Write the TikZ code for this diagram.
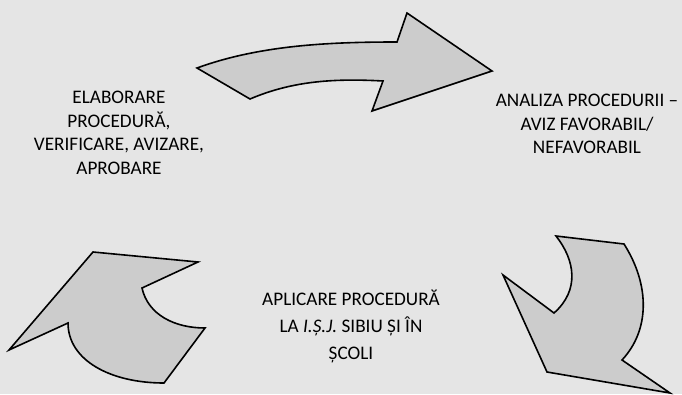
\documentclass[tikz,border=0pt]{standalone}
\usepackage{fontspec}
\setmainfont{Carlito}
\begin{document}
\begin{tikzpicture}[x=1pt,y=-1pt,
  shp/.style={draw=black,line width=1.6pt,fill=gray!40,line join=miter},
  lbl/.style={align=center,font=\fontsize{19.2}{23.5}\selectfont,text=black,inner sep=0pt}]
\fill[gray!20] (0,0) rectangle (682,394);
\useasboundingbox (0,0) rectangle (682,394);
% top arrow
\draw[shp] (197,68) .. controls (260,45) and (330,42) .. (397,42)
  -- (407,13) -- (492,71) -- (372,111) -- (383,81)
  .. controls (330,78) and (290,82) .. (250,99) -- cycle;
% bottom-right arrow
\draw[shp] (556,236) -- (624,244)
  .. controls (650,285) and (650,330) .. (622,360)
  -- (670,393) -- (547,372) -- (503,275) -- (554,313)
  .. controls (580,290) and (575,260) .. cycle;
% bottom-left arrow
\draw[shp] (93,252) -- (198,262) -- (142,288)
  .. controls (148,315) and (175,328) .. (205,328)
  -- (164,383)
  .. controls (110,383) and (68,360) .. (68,323)
  -- (9,350) -- cycle;
\node[lbl] (t1) at (119,133) {ELABORARE\\PROCEDURĂ,\\VERIFICARE, AVIZARE,\\APROBARE};
\node[lbl] (t2) at (587,124) {ANALIZA PROCEDURII –\\AVIZ FAVORABIL/\\NEFAVORABIL};
\node[lbl,font=\fontsize{19.2}{27}\selectfont] (t3) at (351,326) {APLICARE PROCEDURĂ\\LA \textit{I.Ș.J.} SIBIU ȘI ÎN\\ȘCOLI};
\end{tikzpicture}
\end{document}
